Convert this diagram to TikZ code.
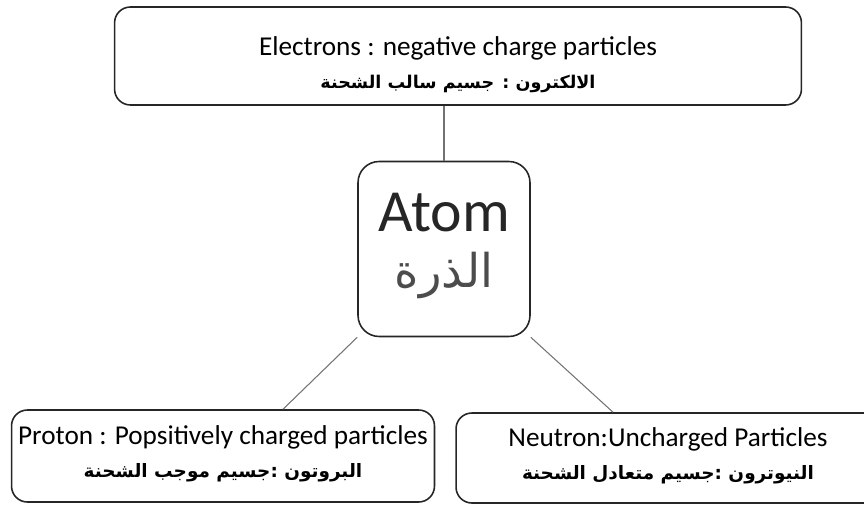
\documentclass[tikz,border=0pt]{standalone}
\usepackage{fontspec}
\setmainfont{Carlito}
\newfontfamily\arabicfont[Script=Arabic]{DejaVu Sans}
\TeXXeTstate=1
\usetikzlibrary{calc}

\begin{document}
\begin{tikzpicture}[x=0.02cm, y=-0.02cm,
                    card/.style={draw=black!85, line width=0.9pt, rounded corners=9pt},
                    txt/.style={align=center, inner sep=0pt, font=\fontsize{15.5}{19}\selectfont},
                    link/.style={draw=black!55, line width=0.6pt}]
    \clip (0,0) rectangle (864,506);
    % boxes
    \node[card, minimum width=13.74cm, minimum height=1.96cm] (elec) at (458,56) {};
    \node[card, minimum width=3.44cm, minimum height=3.5cm, rounded corners=12pt] (atom) at (444,249) {};
    \node[card, minimum width=8.46cm, minimum height=1.84cm] (prot) at (223,456) {};
    \node[card, minimum width=8.48cm, minimum height=1.8cm] (neut) at (668,458) {};
    % texts
    \node[txt] (electxt) at ($(elec.center)+(0,9)$)
          {Electrons : negative charge particles\\
           {\arabicfont\bfseries\fontsize{10}{19}\selectfont\beginR الالكترون : جسيم سالب الشحنة\endR}};
    \node[txt, font=\fontsize{34}{28}\selectfont, text=black!85] (atomtxt) at ($(atom.center)+(0,-3)$)
          {Atom\\[4pt]
           {\arabicfont\fontsize{26.5}{28}\selectfont\color{black!70}\beginR الذرة\endR}};
    \node[txt] (prottxt) at ($(prot.center)+(0,-2)$)
          {Proton : Popsitively charged particles\\
           {\arabicfont\bfseries\fontsize{10.5}{19}\selectfont\beginR البروتون :جسيم موجب الشحنة\endR}};
    \node[txt] (neuttxt) at ($(neut.center)+(0,-2)$)
          {Neutron:Uncharged Particles\\
           {\arabicfont\bfseries\fontsize{10.5}{19}\selectfont\beginR النيوترون :جسيم متعادل الشحنة\endR}};
    % connectors
    \draw[link] (elec.south -| atom.north) -- (atom.north);
    \draw[link] (atom.south west) -- ($(prot.north)+(60,0)$);
    \draw[link] (atom.south east) -- ($(neut.north)+(-55,0)$);
\end{tikzpicture}
\end{document}
